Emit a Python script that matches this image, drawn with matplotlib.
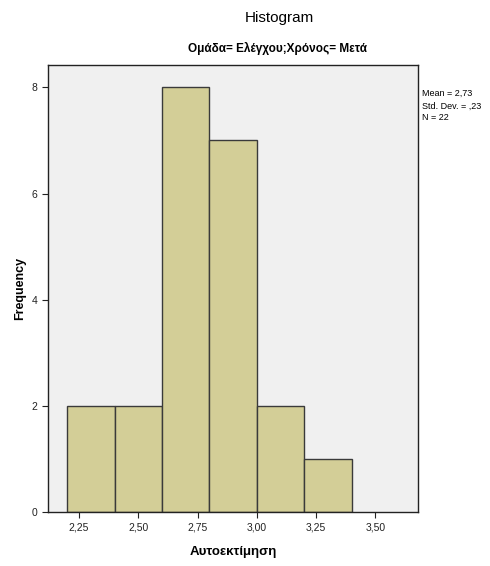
import numpy as np
import matplotlib.pyplot as plt

plt.rcParams['font.family'] = ['Liberation Sans', 'DejaVu Sans']

# histogram data
bin_edges = [2.2, 2.4, 2.6, 2.8, 3.0, 3.2, 3.4]
counts = [2, 2, 8, 7, 2, 1]
xticks = [2.25, 2.50, 2.75, 3.00, 3.25, 3.50]
yticks = [0, 2, 4, 6, 8]
stats = ["Mean = 2,73", "Std. Dev. = ,23", "N = 22"]

fig = plt.figure(figsize=(4.9, 5.66), dpi=100)
ax = fig.add_axes([0.098, 0.0954, 0.755, 0.7896])
ax.set_facecolor('#F0F0F0')

left = np.array(bin_edges[:-1])
widths = np.diff(bin_edges)
ax.bar(left, counts, width=widths, align='edge', color='#D3CE97',
       edgecolor='#3A3A3A', linewidth=1.0, zorder=2)

ax.set_xlim(2.119, 3.68)
ax.set_ylim(0, 8.42)
ax.set_xticks(xticks)
ax.set_xticklabels([f"{t:.2f}".replace('.', ',') for t in xticks])
ax.set_yticks(yticks)
ax.tick_params(direction='out', length=4, width=0.8, labelsize=7.5, colors='#222222')
for s in ax.spines.values():
    s.set_color('#222222')
    s.set_linewidth(1.0)

ax.set_xlabel('Αυτοεκτίμηση', fontsize=9.5, fontweight='bold', labelpad=10)
ax.set_ylabel('Frequency', fontsize=9, fontweight='bold', labelpad=4)

fig.text(0.571, 0.968, 'Histogram', ha='center', va='center', fontsize=11)
fig.text(0.566, 0.914, 'Ομάδα= Ελέγχου;Χρόνος= Μετά', ha='center', va='center',
         fontsize=8.5, fontweight='bold')
fig.text(0.862, 0.813, "\n".join(stats), ha='left', va='center', fontsize=6.5,
         linespacing=1.45)

fig.savefig('out.png', dpi=100)
